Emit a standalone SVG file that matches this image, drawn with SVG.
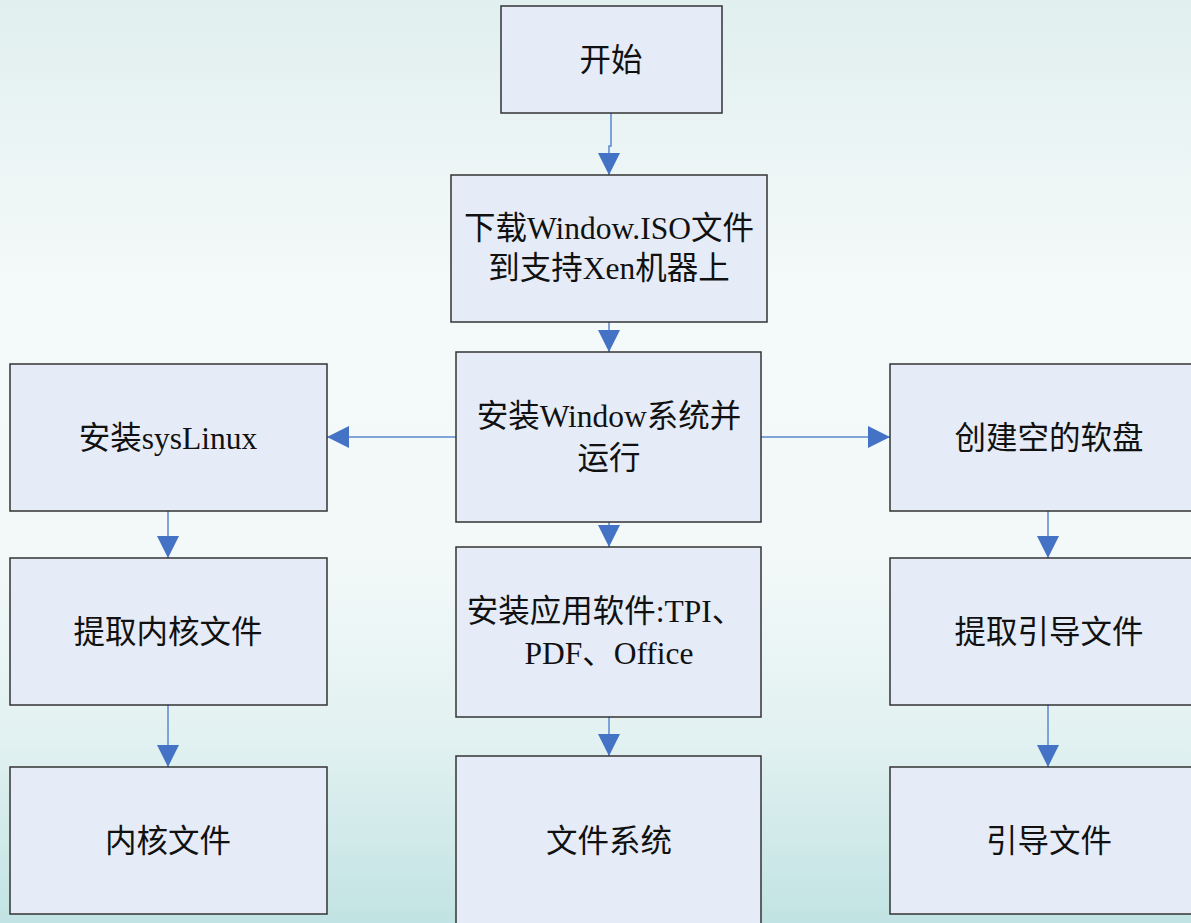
<svg xmlns="http://www.w3.org/2000/svg" width="1191" height="923" viewBox="0 0 1191 923">
<defs>
<linearGradient id="bg" x1="0" y1="0" x2="0" y2="1">
<stop offset="0" stop-color="#e1efef"/>
<stop offset="0.3" stop-color="#f4f9f9"/>
<stop offset="0.6" stop-color="#f3f9f9"/>
<stop offset="0.8" stop-color="#e2f1f1"/>
<stop offset="1" stop-color="#c2e3e3"/>
</linearGradient>
<marker id="ah" markerWidth="22" markerHeight="22" refX="22" refY="11" orient="auto" markerUnits="userSpaceOnUse">
<path d="M0,0 L22,11 L0,22 Z" fill="#4472c4"/>
</marker>
<style>
.box{fill:#e6ecf7;stroke:#333;stroke-width:1.5}
.t{font-family:"Liberation Serif","Noto Sans CJK SC",serif;font-size:31.5px;fill:#111;text-anchor:middle}
.c{fill:none;stroke:#5b87cf;stroke-width:1.5}
</style>
</defs>
<rect width="1191" height="923" fill="url(#bg)"/>
<g id="connectors">
<path class="c" d="M611,113 V146 H609 V175" marker-end="url(#ah)"/>
<path class="c" d="M609,322 V352" marker-end="url(#ah)"/>
<path class="c" d="M456,437 H327" marker-end="url(#ah)"/>
<path class="c" d="M761,437 H890" marker-end="url(#ah)"/>
<path class="c" d="M609,522 V547" marker-end="url(#ah)"/>
<path class="c" d="M609,717 V756" marker-end="url(#ah)"/>
<path class="c" d="M168,511 V558" marker-end="url(#ah)"/>
<path class="c" d="M168,705 V767" marker-end="url(#ah)"/>
<path class="c" d="M1048,511 V558" marker-end="url(#ah)"/>
<path class="c" d="M1048,705 V767" marker-end="url(#ah)"/>
</g>
<g id="start"><rect class="box" x="501" y="6" width="221" height="107"/><text class="t" x="611" y="71">开始</text></g>
<g id="download"><rect class="box" x="451" y="175" width="316" height="147"/><text class="t" x="609" y="239">下载Window.ISO文件</text><text class="t" x="609" y="279">到支持Xen机器上</text></g>
<g id="install-win"><rect class="box" x="456" y="352" width="305" height="170"/><text class="t" x="609" y="427">安装Window系统并</text><text class="t" x="609" y="469">运行</text></g>
<g id="install-app"><rect class="box" x="456" y="547" width="305" height="170"/><text class="t" x="605" y="622">安装应用软件:TPI、</text><text class="t" x="609" y="664">PDF、Office</text></g>
<g id="fs"><rect class="box" x="456" y="756" width="305" height="180"/><text class="t" x="609" y="852">文件系统</text></g>
<g id="syslinux"><rect class="box" x="10" y="364" width="317" height="147"/><text class="t" x="168" y="449">安装sysLinux</text></g>
<g id="extract-kernel"><rect class="box" x="10" y="558" width="317" height="147"/><text class="t" x="168" y="643">提取内核文件</text></g>
<g id="kernel"><rect class="box" x="10" y="767" width="317" height="147"/><text class="t" x="168" y="852">内核文件</text></g>
<g id="floppy"><rect class="box" x="890" y="364" width="317" height="147"/><text class="t" x="1049" y="449">创建空的软盘</text></g>
<g id="extract-boot"><rect class="box" x="890" y="558" width="317" height="147"/><text class="t" x="1049" y="643">提取引导文件</text></g>
<g id="boot"><rect class="box" x="890" y="767" width="317" height="147"/><text class="t" x="1049" y="852">引导文件</text></g>
</svg>
